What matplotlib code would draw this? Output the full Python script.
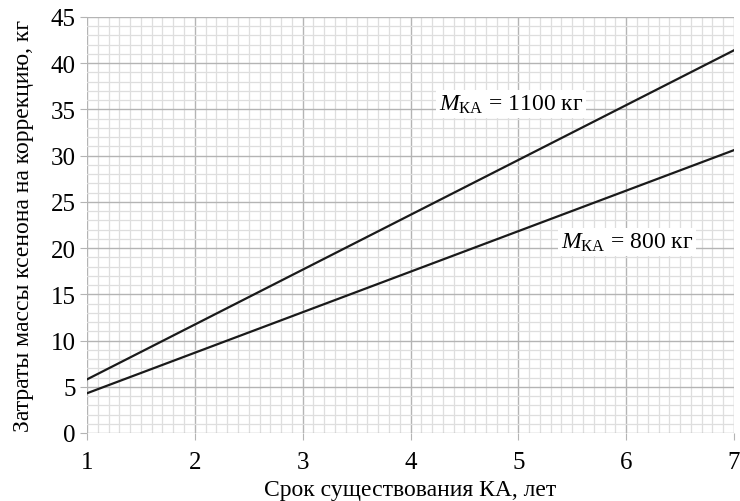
import matplotlib
matplotlib.use("Agg")
import matplotlib.pyplot as plt
from matplotlib.ticker import MultipleLocator

plt.rcParams['font.family'] = ['Liberation Serif', 'DejaVu Serif']
plt.rcParams['mathtext.fontset'] = 'custom'
plt.rcParams['mathtext.rm'] = 'Liberation Serif'
plt.rcParams['mathtext.it'] = 'Liberation Serif:italic'

years = [1, 4, 7]
xenon_1100 = [5.8, 23.6, 41.4]
xenon_800 = [4.3, 17.45, 30.6]
labels = [r'$M_{\mathrm{КА}}$ = 1100 кг', r'$M_{\mathrm{КА}}$ = 800 кг']
label_pos = [(4.93, 35.6), (6.01, 20.7)]

fig = plt.figure(figsize=(7.4, 5.02), dpi=100)
ax = fig.add_axes([87/740, 1-434/502, (734-87)/740, (434-18)/502])

ax.set_xlim(1, 7)
ax.set_ylim(0, 45)
ax.xaxis.set_major_locator(MultipleLocator(1))
ax.xaxis.set_minor_locator(MultipleLocator(0.1))
ax.yaxis.set_major_locator(MultipleLocator(5))
ax.yaxis.set_minor_locator(MultipleLocator(1))
ax.grid(which='major', color='#b4b4b4', linewidth=1.0)
ax.grid(which='minor', color='#dedede', linewidth=0.9)
ax.set_axisbelow(True)
for s in ax.spines.values():
    s.set_visible(False)
ax.tick_params(which='major', length=5, color='#b4b4b4', labelsize=18)
ax.tick_params(axis='x', which='major', pad=8)
ax.tick_params(axis='y', which='major', pad=3)
ax.tick_params(which='minor', length=0)

ax.plot(years, xenon_1100, color='#1a1a1a', linewidth=1.6)
ax.plot(years, xenon_800, color='#1a1a1a', linewidth=1.6)

for t, (x, y) in zip(labels, label_pos):
    ax.text(x, y, t, fontsize=17, ha='center', va='center',
            bbox=dict(facecolor='white', edgecolor='none', pad=2))

ax.set_xlabel('Срок существования КА, лет', fontsize=17, labelpad=4)
ax.set_ylabel('Затраты массы ксенона на коррекцию, кг', fontsize=17, labelpad=12)

fig.savefig('out.png', dpi=100)
